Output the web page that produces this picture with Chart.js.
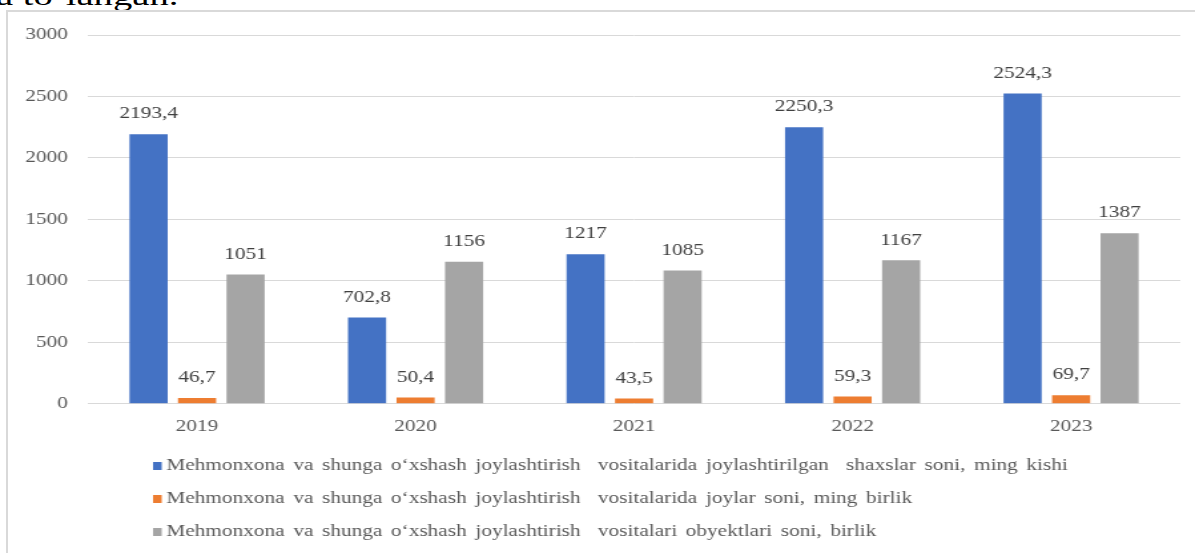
<!DOCTYPE html>
<html>
<head>
<meta charset="utf-8">
<script src="https://cdn.jsdelivr.net/npm/chart.js@4.4.1/dist/chart.umd.min.js"></script>
<style>
  html, body { margin: 0; padding: 0; background: #fff; overflow: hidden; }
  #wrap { position: relative; width: 1195px; height: 553px; overflow: hidden; }
  #head {
    position: absolute; left: -4px; top: -18px;
    font: 28px "Liberation Serif", serif; line-height: 1; color: #000;
    transform: scaleX(1.38); transform-origin: 0 0; white-space: nowrap;
  }
  #frame {
    position: absolute; left: 6px; top: 10px; width: 1200px; height: 560px;
    border: 2px solid #d9d9d9; box-sizing: border-box;
  }
  #stretch {
    position: absolute; left: 0; top: 0; width: 898px; height: 553px;
    transform: scaleX(1.3307); transform-origin: 0 0;
  }
</style>
</head>
<body>
<div id="wrap">
  <div id="head">a to‘langan.</div>
  <div id="frame"></div>
  <div id="stretch"><canvas id="chart" width="898" height="553"></canvas></div>
</div>
<script>
var years = ['2019', '2020', '2021', '2022', '2023'];
var guests = [2193.4, 702.8, 1217, 2250.3, 2524.3];
var places = [46.7, 50.4, 43.5, 59.3, 69.7];
var objects = [1051, 1156, 1085, 1167, 1387];
var seriesNames = [
  'Mehmonxona va shunga o‘xshash joylashtirish  vositalarida joylashtirilgan  shaxslar soni, ming kishi',
  'Mehmonxona va shunga o‘xshash joylashtirish  vositalarida joylar soni, ming birlik',
  'Mehmonxona va shunga o‘xshash joylashtirish  vositalari obyektlari soni, birlik'
];
var yTicks = [0, 500, 1000, 1500, 2000, 2500, 3000];

var serif = '"Liberation Serif", "Times New Roman", serif';

// value labels above the bars, decimal comma like the source
var barLabels = {
  id: 'barLabels',
  afterDatasetsDraw: function (chart) {
    var ctx = chart.ctx;
    ctx.save();
    ctx.font = '16px ' + serif;
    ctx.fillStyle = '#404040';
    ctx.textAlign = 'center';
    ctx.textBaseline = 'middle';
    chart.data.datasets.forEach(function (ds, i) {
      chart.getDatasetMeta(i).data.forEach(function (bar, j) {
        ctx.fillText(String(ds.data[j]).replace('.', ','), bar.x, bar.y - 20);
      });
    });
    ctx.restore();
  },
};

// legend stacked one item per row, left aligned
var rowLegend = {
  id: 'rowLegend',
  afterDraw: function (chart) {
    var ctx = chart.ctx;
    ctx.save();
    ctx.font = '16px ' + serif;
    ctx.wordSpacing = '2.5px';
    ctx.textAlign = 'left';
    ctx.textBaseline = 'middle';
    chart.data.datasets.forEach(function (ds, i) {
      var y = 466 + i * 33;
      ctx.fillStyle = ds.backgroundColor;
      ctx.fillRect(115, y - 4, 6.5, 8);
      ctx.fillStyle = '#595959';
      ctx.fillText(ds.label, 125, y);
    });
    ctx.restore();
  },
};

var ctx = document.getElementById('chart').getContext('2d');
var chart = new Chart(ctx, {
  type: 'bar',
  plugins: [barLabels, rowLegend],
  data: {
    labels: years,
    datasets: [
      { label: seriesNames[0], data: guests, backgroundColor: '#4472C4' },
      { label: seriesNames[1], data: places, backgroundColor: '#ED7D31' },
      { label: seriesNames[2], data: objects, backgroundColor: '#A5A5A5' },
    ],
  },
  options: {
    responsive: false,
    animation: false,
    devicePixelRatio: 1,
    layout: { padding: { left: 6, right: 11, top: 35, bottom: 112 } },
    datasets: { bar: { categoryPercentage: 0.666, barPercentage: 0.786 } },
    plugins: {
      legend: { display: false },
      tooltip: { enabled: false },
    },
    scales: {
      x: {
        grid: { display: false },
        border: { display: false },
        ticks: { color: '#595959', font: { family: serif, size: 16 }, padding: 5 },
      },
      y: {
        min: 0,
        max: 3000,
        afterBuildTicks: function (scale) {
          scale.ticks = yTicks.map(function (v) { return { value: v }; });
        },
        afterFit: function (scale) { scale.width = 60; },
        grid: { color: '#d9d9d9', lineWidth: 1, drawTicks: false },
        border: { display: false },
        ticks: {
          color: '#595959',
          font: { family: serif, size: 16 },
          padding: 15,
          callback: function (v) { return String(v); },
        },
      },
    },
  },
});
</script>
</body>
</html>
